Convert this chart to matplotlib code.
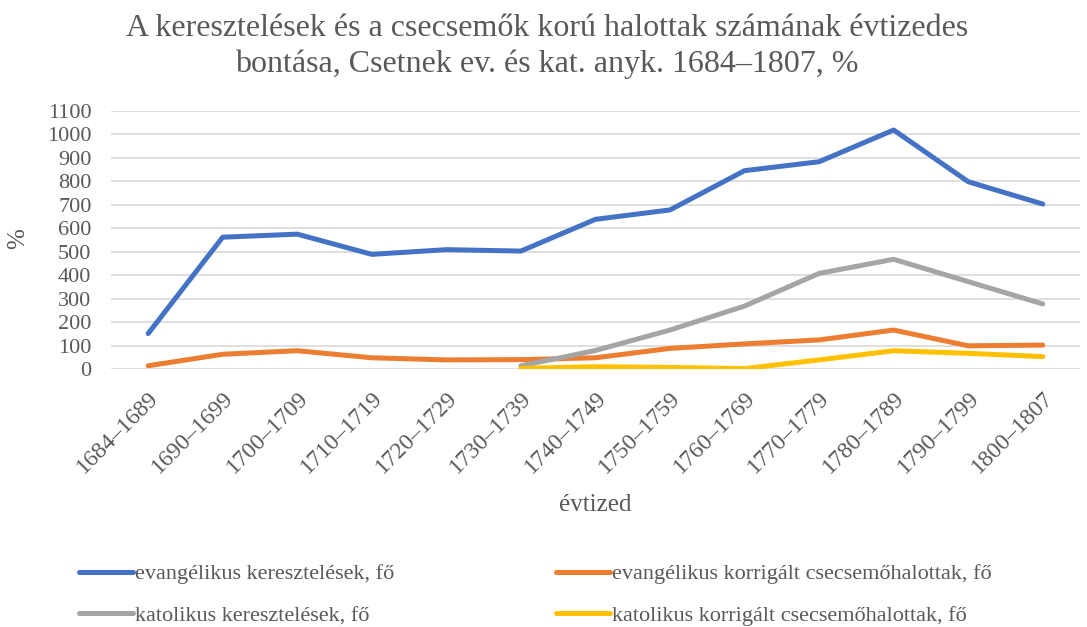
import matplotlib.pyplot as plt
import numpy as np

# Decades and counts per series
decades = ['1684–1689', '1690–1699', '1700–1709', '1710–1719', '1720–1729',
           '1730–1739', '1740–1749', '1750–1759', '1760–1769', '1770–1779',
           '1780–1789', '1790–1799', '1800–1807']
ev_baptisms = [152, 562, 575, 489, 509, 503, 638, 678, 845, 883, 1018, 798, 703]
ev_infant_deaths = [15, 64, 79, 49, 40, 41, 49, 89, 108, 125, 167, 100, 103]
kat_baptisms = [None] * 5 + [15, 80, 167, 269, 408, 468, 373, 278]
kat_infant_deaths = [None] * 5 + [4, 11, 8, 3, 40, 79, 68, 54]

labels = ['evangélikus keresztelések, fő',
          'evangélikus korrigált csecsemőhalottak, fő',
          'katolikus keresztelések, fő',
          'katolikus korrigált csecsemőhalottak, fő']
colors = ['#4472C4', '#ED7D31', '#A5A5A5', '#FFC000']

plt.rcParams['font.family'] = ['Liberation Serif', 'DejaVu Serif']
text_color = '#595959'

fig = plt.figure(figsize=(10.87, 6.27), dpi=100)
ax = fig.add_axes([0.102, 0.411, 0.8916, 0.4124])

x = np.arange(len(decades))
series = [ev_baptisms, ev_infant_deaths, kat_baptisms, kat_infant_deaths]
lines = []
for values, color, label in zip(series, colors, labels):
    y = np.array([np.nan if v is None else v for v in values], dtype=float)
    ln, = ax.plot(x, y, color=color, linewidth=3.6, solid_capstyle='round',
                  solid_joinstyle='round', label=label)
    lines.append(ln)

ax.set_xlim(-0.5, len(decades) - 0.5)
ax.set_ylim(0, 1100)
ax.set_yticks(range(0, 1101, 100))
ax.set_xticks(x)
ax.set_xticklabels(decades, rotation=45, ha='right', rotation_mode='anchor')
ax.tick_params(axis='both', length=0, labelsize=16, colors=text_color)
ax.tick_params(axis='x', labelsize=17, pad=13)
ax.tick_params(axis='y', pad=14)
ax.grid(axis='y', color='#D9D9D9', linewidth=1.2)
ax.set_axisbelow(True)
for s in ax.spines.values():
    s.set_visible(False)

ax.set_xlabel('évtized', fontsize=18, color=text_color, labelpad=12)
fig.text(0.017, 0.62, '%', rotation=90, fontsize=18, color=text_color,
         ha='center', va='center')

fig.text(0.503, 0.977, 'A keresztelések és a csecsemők korú halottak számának évtizedes\n'
         'bontása, Csetnek ev. és kat. anyk. 1684–1807, %',
         ha='center', va='top', fontsize=23, color=text_color, linespacing=1.27)

fig.legend(handles=[lines[0], lines[2], lines[1], lines[3]],
           labels=[labels[0], labels[2], labels[1], labels[3]],
           ncol=2, loc='center left', bbox_to_anchor=(0.073, 0.051),
           frameon=False, fontsize=16, labelcolor=text_color,
           handlelength=2.4, handletextpad=0.1, columnspacing=7.3,
           labelspacing=0.95, borderpad=0, borderaxespad=0)

fig.savefig('out.png', dpi=100)
